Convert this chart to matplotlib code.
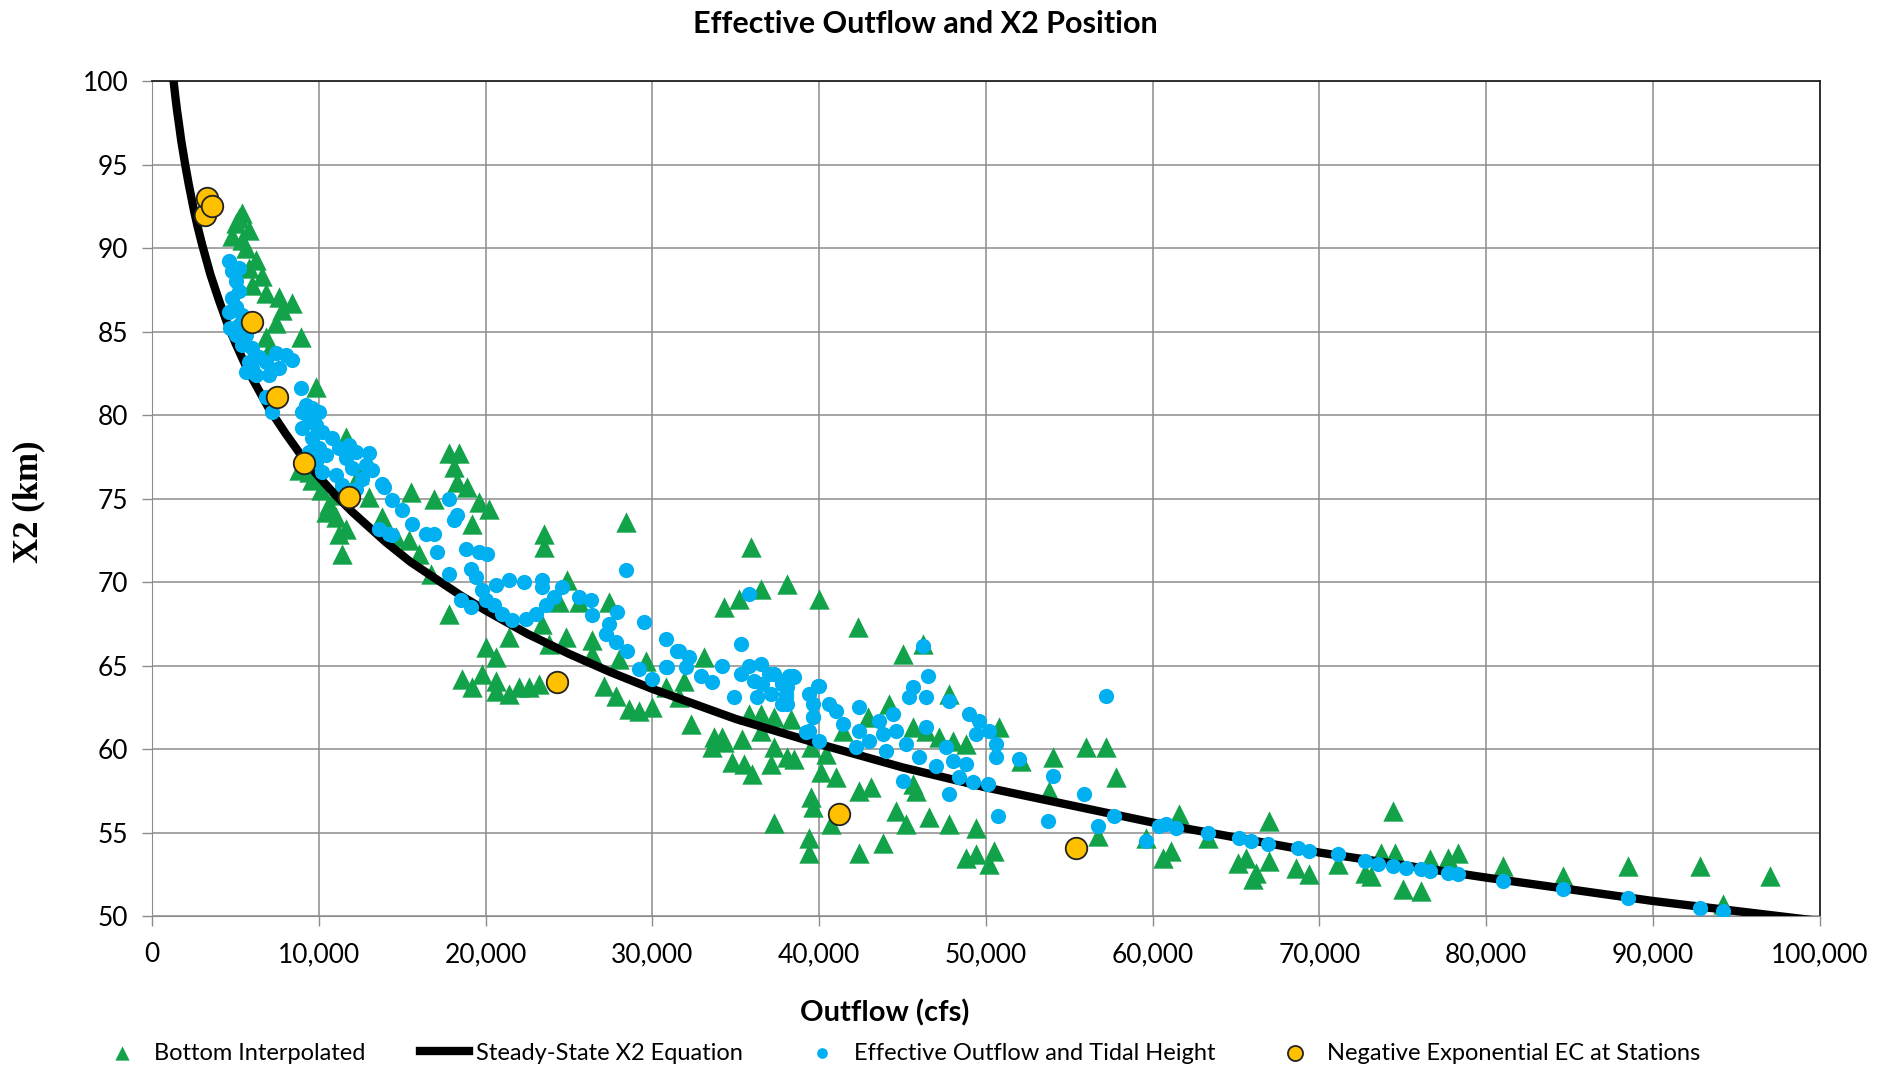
import numpy as np
import matplotlib
matplotlib.use("Agg")
import matplotlib.pyplot as plt
from matplotlib.ticker import FuncFormatter, MultipleLocator

# Bottom Interpolated (green triangles)
green_x = [5400, 5000, 5800, 4800, 5400, 5200, 5600, 6200, 6600, 6800, 7600, 8400, 7800, 7400, 6800, 8900,
           7000, 9800, 8800, 9600, 10100, 10600, 11000, 11200, 11400, 11600, 12400, 13000, 13800, 9200, 9400,
           10400, 11000, 11600, 5800, 6000,
           17800, 18400, 18100, 18300, 18900, 15500, 16900, 19600, 20200, 19200, 14600, 15400, 16000, 16700,
           23500, 23500, 28400, 35900, 36500, 38100, 34300, 35200, 24900, 24400, 25600, 27400, 17800, 23400,
           21400, 20000, 20600, 23800, 24800, 26400, 26400, 28000, 29600, 33100, 18600, 19200, 19800, 20600,
           20600, 21400, 22000, 22600, 23200, 27100, 27800, 28600, 29200, 30000, 30800, 31600, 32300, 33700,
           34200, 35800, 36500, 37300, 36500,
           33600, 34800, 35500, 36000, 37300, 37100, 38100, 38500, 39500, 40400, 40100, 41000, 39500, 39600,
           37300, 39400, 39400, 40700, 42400, 43100, 42400, 34300, 35400, 31900, 38300, 41400, 42900,
           40000, 42300, 45000, 46200, 43800, 44600, 45200, 45600, 45800, 46600, 47800, 49400, 48800, 49400,
           50500, 50200, 44200, 45600, 46400, 47200, 48000, 48800, 47800, 50800, 52100, 54000, 53800, 56000,
           57200, 57800, 56700, 59600, 60600, 61600,
           61100, 63300, 65100, 65600, 66000, 66200, 67000, 67000, 68600, 69400, 71100, 72700, 73100, 73700,
           74400, 74500, 75000, 76100, 76600, 77700, 78300, 81000, 84600, 88500, 92800, 94200, 97000]
green_y = [92.1, 91.5, 91.1, 90.7, 90.5, 91.8, 90.0, 89.3, 88.3, 87.3, 87.1, 86.7, 86.3, 85.5, 84.7, 84.7,
           83.9, 81.7, 76.7, 76.1, 75.5, 74.7, 73.9, 72.9, 71.7, 78.7, 76.5, 75.1, 73.9, 77.0, 76.6,
           74.2, 75.2, 73.2, 88.8, 87.8,
           77.7, 77.7, 76.9, 76.0, 75.7, 75.4, 75.0, 74.8, 74.4, 73.5, 72.7, 72.5, 71.7, 70.5,
           72.9, 72.1, 73.6, 72.1, 69.6, 69.9, 68.5, 69.0, 70.1, 68.8, 68.8, 68.8, 68.1, 67.5,
           66.7, 66.1, 65.5, 66.3, 66.7, 66.5, 65.7, 65.4, 65.3, 65.5, 64.2, 63.7, 64.5, 64.1,
           63.5, 63.3, 63.7, 63.7, 63.9, 63.8, 63.2, 62.4, 62.3, 62.5, 63.7, 63.1, 61.5, 60.7,
           60.7, 62.1, 62.1, 61.9, 61.1,
           60.1, 59.2, 59.1, 58.5, 60.1, 59.1, 59.5, 59.4, 60.1, 59.7, 58.6, 58.3, 57.1, 56.5,
           55.6, 54.7, 53.8, 55.5, 57.5, 57.7, 53.8, 60.4, 60.6, 64.1, 61.8, 61.1, 61.9,
           69.0, 67.3, 65.7, 66.3, 54.4, 56.3, 55.5, 57.9, 57.5, 55.9, 55.5, 55.3, 53.5, 53.7,
           53.9, 53.1, 62.7, 61.3, 61.1, 60.7, 60.5, 60.3, 63.3, 61.3, 59.3, 59.5, 57.5, 60.1,
           60.1, 58.3, 54.8, 54.7, 53.5, 56.1,
           53.9, 54.7, 53.2, 53.5, 52.2, 52.6, 55.7, 53.3, 52.9, 52.5, 53.1, 52.6, 52.4, 53.8,
           56.3, 53.8, 51.6, 51.5, 53.4, 53.5, 53.8, 53.0, 52.4, 53.0, 53.0, 50.7, 52.4]

# Steady-State X2 Equation
curve_x = [1300, 1400, 1500, 1600, 1750, 1800, 2000, 2200, 2500, 2700, 3000, 3250, 3500, 4000, 4500,
           5000, 5500, 6000, 6500, 7000, 8000, 9000, 10000, 11000, 12000, 13000, 14000, 15500, 17000,
           18500, 20000, 22500, 25000, 27500, 30000, 35000, 40000, 45000, 50000, 60000, 70000, 80000,
           90000, 100000]
curve_y = [99.9, 99.0, 98.2, 97.5, 96.4, 96.1, 94.9, 93.8, 92.3, 91.4, 90.2, 89.3, 88.4, 86.9, 85.5,
           84.3, 83.2, 82.2, 81.3, 80.4, 78.9, 77.5, 76.3, 75.2, 74.2, 73.3, 72.4, 71.2, 70.2,
           69.2, 68.3, 66.9, 65.7, 64.6, 63.6, 61.8, 60.3, 58.9, 57.7, 55.6, 53.8, 52.3,
           50.9, 49.7]

# Effective Outflow and Tidal Height (blue dots)
blue_x = [4600, 4800, 5000, 5200, 4800, 5000, 5400, 5200, 5600, 5400, 6000, 5800, 5600, 6200, 4600, 5000,
          6400, 6000, 5200, 4700, 7400, 8000, 8400, 7600, 7000, 6800, 8900, 6800, 7200,
          9200, 9600, 10000, 9400, 9800, 10200, 9000, 9600, 10000, 9400, 10400, 9800, 10200, 9000,
          10800, 11200, 11600, 12000, 11000, 11400, 12200, 12600, 12800, 12200, 11800,
          13000, 13200, 13800, 13600, 14200,
          13900, 14400, 15000, 15600, 16400, 16900, 14400, 17100, 17800, 18300, 18100, 18800, 19600, 20100,
          17800, 19100, 19400, 19800, 20600, 21400, 22300, 23400, 23400, 18500, 19100, 20000, 20500, 21000,
          21600, 22400, 23000, 23600, 24100, 24600, 25600, 26300, 26400, 27400, 27900, 27200, 27800, 28500,
          29200, 30000, 28400, 29500, 30800, 31500, 32200, 32000, 30900, 32900, 33600, 34200, 35300, 35800,
          34900, 35300, 36100, 36500, 36300, 37300, 37100, 38100, 38500, 38100,
          30800, 31600, 35800, 36600, 37000, 37800, 38200, 37800, 38000, 39900, 39600, 39200,
          38400, 37800, 38000, 39400, 40000, 39600, 40600, 41000, 41400, 39600, 39400, 40000, 42400, 42400,
          42200, 43600, 43800, 44400, 44600, 44000, 43000, 45200, 46000, 45000, 45600, 45400, 46500, 46400,
          46400, 46200, 47000, 47600, 47800, 48000, 48800, 48400, 47800, 49200, 49000, 49600, 49400, 50200,
          50600, 50600, 50100, 52000, 50700, 54000, 53700, 55900, 56700, 57200, 57700, 59600, 60400, 61400,
          60800, 63300, 65200, 65900, 66900, 68700, 69400, 71100, 72700, 73500, 74400, 75200, 76100, 76600,
          77700, 78300, 81000, 84600, 88500, 92800, 94200]
blue_y = [89.2, 88.6, 88.0, 87.4, 87.0, 86.5, 86.0, 85.4, 84.8, 84.2, 84.0, 83.2, 82.6, 82.4, 86.2, 84.8,
          83.5, 82.8, 88.8, 85.2, 83.7, 83.6, 83.3, 82.8, 82.4, 83.2, 81.6, 81.1, 80.2,
          80.6, 80.4, 80.2, 79.8, 79.4, 79.0, 79.2, 78.6, 78.0, 77.8, 77.6, 77.2, 76.6, 80.2,
          78.6, 78.0, 77.4, 76.8, 76.4, 75.8, 75.6, 76.2, 77.0, 77.8, 78.2,
          77.7, 76.7, 75.9, 73.2, 72.9,
          75.7, 74.9, 74.3, 73.5, 72.9, 72.9, 72.8, 71.8, 75.0, 74.0, 73.7, 72.0, 71.8, 71.7,
          70.5, 70.8, 70.3, 69.5, 69.8, 70.1, 70.0, 70.1, 69.7, 68.9, 68.5, 68.9, 68.6, 68.1,
          67.7, 67.8, 68.1, 68.6, 69.1, 69.7, 69.1, 68.9, 68.0, 67.5, 68.2, 66.9, 66.4, 65.9,
          64.8, 64.2, 70.7, 67.6, 66.6, 65.9, 65.5, 64.9, 64.9, 64.4, 64.0, 65.0, 66.3, 69.3,
          63.1, 64.5, 64.1, 65.1, 63.1, 64.5, 63.3, 63.7, 64.3, 62.7,
          64.9, 65.9, 65.0, 63.9, 64.5, 63.9, 64.4, 62.7, 63.3, 63.8, 61.9, 61.0,
          64.4, 64.1, 63.1, 63.3, 63.8, 62.7, 62.7, 62.3, 61.5, 61.9, 61.1, 60.5, 62.5, 61.1,
          60.1, 61.7, 60.9, 62.1, 61.1, 59.9, 60.5, 60.3, 59.5, 58.1, 63.7, 63.1, 64.4, 63.1,
          61.3, 66.2, 59.0, 60.1, 62.9, 59.3, 59.1, 58.3, 57.3, 58.0, 62.1, 61.7, 60.9, 61.1,
          60.3, 59.5, 57.9, 59.4, 56.0, 58.4, 55.7, 57.3, 55.4, 63.2, 56.0, 54.5, 55.4, 55.3,
          55.5, 55.0, 54.7, 54.5, 54.3, 54.1, 53.9, 53.7, 53.3, 53.1, 53.0, 52.9, 52.8, 52.7,
          52.6, 52.5, 52.1, 51.6, 51.1, 50.5, 50.3]

# Negative Exponential EC at Stations (orange)
orange_x = [3200, 3300, 3600, 6000, 7500, 9100, 11800, 24300, 41200, 55400]
orange_y = [92.0, 93.0, 92.5, 85.6, 81.1, 77.1, 75.1, 64.0, 56.1, 54.1]

sans = ['Lato', 'DejaVu Sans']

fig = plt.figure(figsize=(18.78, 10.67), dpi=100)
ax = fig.add_axes([0.081, 0.1415, 0.888, 0.7825])

ax.scatter(green_x, green_y, marker='^', s=215, color='#12A24A', linewidths=0, zorder=2,
           label='Bottom Interpolated')
ax.plot(curve_x, curve_y, color='black', lw=6, zorder=3, label='Steady-State X2 Equation')
ax.scatter(blue_x, blue_y, marker='o', s=120, color='#00B0F0', linewidths=0, zorder=4,
           label='Effective Outflow and Tidal Height')
ax.scatter(orange_x, orange_y, marker='o', s=240, color='#FFC000', edgecolors='#222222',
           linewidths=1.3, zorder=5, label='Negative Exponential EC at Stations')

ax.set_xlim(0, 100000)
ax.set_ylim(50, 100)
ax.xaxis.set_major_locator(MultipleLocator(10000))
ax.yaxis.set_major_locator(MultipleLocator(5))
ax.xaxis.set_major_formatter(FuncFormatter(lambda v, p: f"{int(v):,}"))
ax.grid(True, color='#8c8c8c', lw=1.1, zorder=0)
ax.set_axisbelow(True)
ax.tick_params(axis='both', length=7, color='#8c8c8c', labelsize=19, width=1.0)
ax.tick_params(axis='x', pad=12)
ax.tick_params(axis='y', pad=10)
for lab in ax.get_xticklabels() + ax.get_yticklabels():
    lab.set_family(sans)
for side in ['left', 'bottom']:
    ax.spines[side].set_color('#8c8c8c')
for side in ['top', 'right']:
    ax.spines[side].set_color('#222222')
    ax.spines[side].set_linewidth(1.3)

fig.text(0.4925, 0.9775, 'Effective Outflow and X2 Position', ha='center', va='center',
         fontsize=22, fontweight='bold', family=sans)
fig.text(0.471, 0.0506, 'Outflow (cfs)', ha='center', va='center',
         fontsize=21, fontweight='bold', family=sans)
fig.text(0.0155, 0.5295, 'X2 (km)', ha='center', va='center', rotation=90,
         fontsize=25, fontweight='bold', family=['Liberation Serif', 'DejaVu Serif'])

fig.legend(loc='center', bbox_to_anchor=(0.4785, 0.013), ncol=4, frameon=False,
           prop={'family': sans, 'size': 17}, handlelength=2.1, handletextpad=0.3,
           columnspacing=2.3, borderpad=0, scatterpoints=1, markerscale=0.7)

fig.savefig('out.png', dpi=100)
